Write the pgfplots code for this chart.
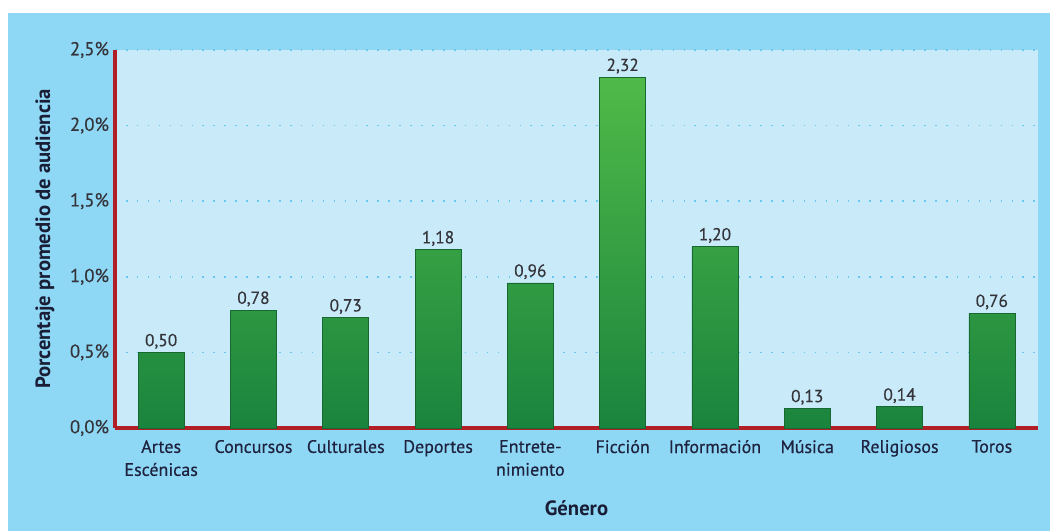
\documentclass[border=0pt]{standalone}
\usepackage{pgfplots}
\pgfplotsset{compat=1.18}
\usepackage{fontspec}
\setmainfont{PT Sans}
\newfontfamily\medfont[FakeBold=0.4]{PT Sans}
\definecolor{outerblue}{RGB}{142,215,245}
\definecolor{innerblue}{RGB}{200,234,249}
\definecolor{gridblue}{RGB}{105,200,240}
\definecolor{axisred}{RGB}{178,30,38}
\definecolor{barlight}{RGB}{80,186,72}
\definecolor{bardark}{RGB}{26,132,62}
\definecolor{baredge}{RGB}{22,105,48}
\definecolor{labelcol}{RGB}{30,34,62}
\definecolor{tickcol}{RGB}{52,52,58}
\begin{document}
\begin{tikzpicture}
\useasboundingbox (0,0) rectangle (787.5pt,398.25pt);
\fill[white] (0,0) rectangle (787.5pt,398.25pt);
\fill[outerblue] (6pt,0) rectangle (787.5pt,388.5pt);
\begin{axis}[
  at={(86.25pt,77.25pt)}, anchor=south west,
  scale only axis, width=692.25pt, height=283.5pt,
  xmin=-0.5, xmax=9.5, ymin=0, ymax=2.5,
  axis background/.style={fill=innerblue},
  axis x line*=bottom, axis y line*=left,
  axis line style={axisred, line width=2.4pt, -},
  major tick length=0pt,
  xtick={0,...,9},
  xticklabels={{Artes\\Escénicas},Concursos,Culturales,Deportes,{Entrete-\\nimiento},Ficción,Información,Música,Religiosos,Toros},
  xticklabel style={font=\medfont\fontsize{13.5}{17.25}\selectfont, text=labelcol, align=center, yshift=-5.5pt},
  ytick={0,0.5,1,1.5,2,2.5},
  yticklabels={{0,0\%},{0,5\%},{1,0\%},{1,5\%},{2,0\%},{2,5\%}},
  yticklabel style={font=\medfont\fontsize{14}{16}\selectfont, text=tickcol, xshift=-1pt},
  ymajorgrids,
  grid style={gridblue, line width=1.1pt, dash pattern=on 1.2pt off 7pt},
  ylabel={\bfseries Porcentaje promedio de audiencia},
  ylabel style={at={(axis description cs:-0.0758,0.5)}, anchor=center, font=\fontsize{15.5}{18}\selectfont, text=labelcol!85!black},
  xlabel={\bfseries Género},
  xlabel style={at={(axis description cs:0.5,-0.212)}, anchor=center, font=\fontsize{15.5}{18}\selectfont, text=labelcol!85!black},
  nodes near coords={\pgfmathprintnumber[fixed,fixed zerofill,precision=2,use comma,assume math mode=true]{\pgfplotspointmeta}},
  nodes near coords style={font=\medfont\fontsize{13}{15}\selectfont, text=tickcol, inner sep=2.5pt},
  clip=false,
]
\addplot[ybar, bar width=34.5pt, draw=baredge, line width=0.5pt, top color=barlight, bottom color=bardark]
coordinates {(0,0.50) (1,0.78) (2,0.73) (3,1.18) (4,0.96) (5,2.32) (6,1.20) (7,0.13) (8,0.14) (9,0.76)};
\end{axis}
\end{tikzpicture}
\end{document}
